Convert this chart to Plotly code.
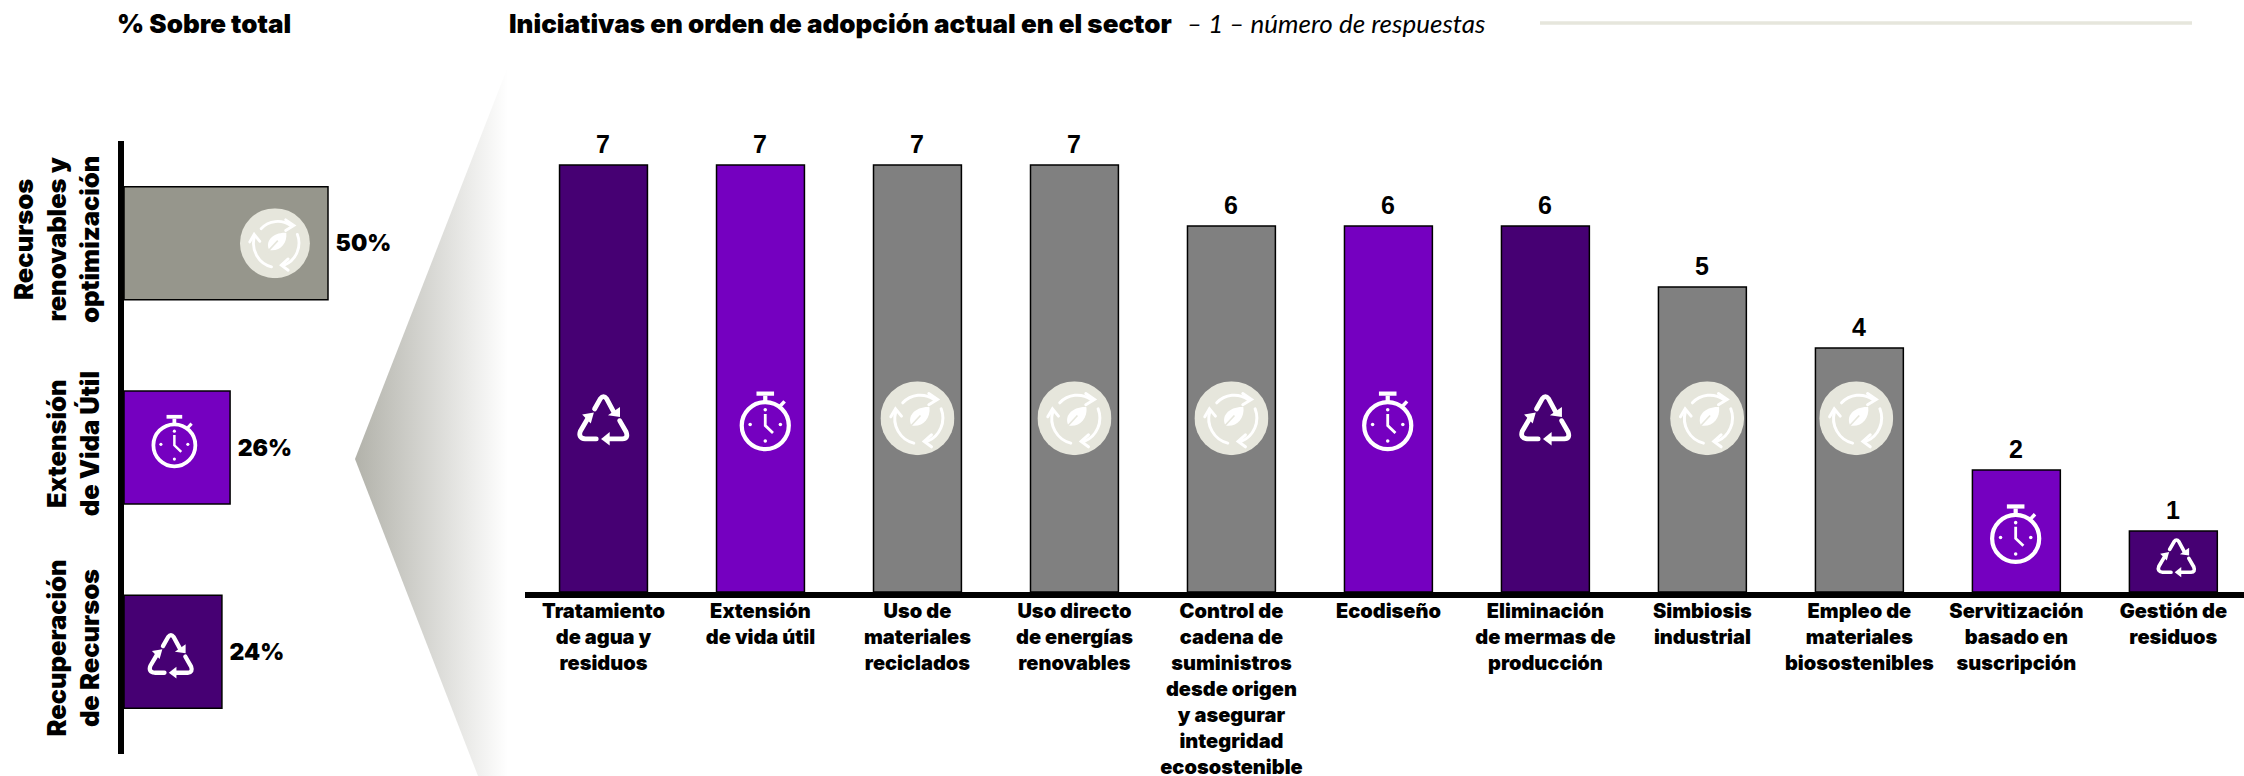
import base64
import plotly.graph_objects as go

# ---- data ----
group_labels = ["Recursos<br>renovables y<br>optimización", "Extensión<br>de Vida Útil", "Recuperación<br>de Recursos"]
group_values = [50, 26, 24]
group_colors = ["#96968c", "#7500c0", "#460073"]
group_icons = ["leaf", "watch", "recycle"]

initiatives = [
    "Tratamiento<br>de agua y<br>residuos",
    "Extensión<br>de vida útil",
    "Uso de<br>materiales<br>reciclados",
    "Uso directo<br>de energías<br>renovables",
    "Control de<br>cadena de<br>suministros<br>desde origen<br>y asegurar<br>integridad<br>ecosostenible",
    "Ecodiseño",
    "Eliminación<br>de mermas de<br>producción",
    "Simbiosis<br>industrial",
    "Empleo de<br>materiales<br>biosostenibles",
    "Servitización<br>basado en<br>suscripción",
    "Gestión de<br>residuos",
]
initiative_values = [7, 7, 7, 7, 6, 6, 6, 5, 4, 2, 1]
initiative_icons = ["recycle", "watch", "leaf", "leaf", "leaf", "watch", "recycle", "leaf", "leaf", "watch", "recycle"]
initiative_colors = {"recycle": "#460073", "watch": "#7500c0", "leaf": "#808080"}

W, H = 2244, 776
FONT = "Inter"

SVG = {
    "recycle": '''<svg xmlns="http://www.w3.org/2000/svg" viewBox="45 40 160 160">
<g fill="none" stroke="#fff" stroke-width="14" stroke-linecap="round" stroke-linejoin="round">
<path d="M99 88 L116 58 Q125 46 134 58 L155 97"/>
<path d="M172 122 L191 155 Q198 174 180 175 L138 175"/>
<path d="M104 175 L72 175 Q50 172 58 152 L78 118"/></g>
<g fill="#fff"><path d="M138 106 L173 111 L173 82 Z"/><path d="M118 175 L143 155 L143 194 Z"/><path d="M97 98 L63 104 L88 130 Z"/></g>
</svg>''',
    "watch": '''<svg xmlns="http://www.w3.org/2000/svg" viewBox="50 30 160 185">
<circle cx="128" cy="135" r="67" fill="none" stroke="#fff" stroke-width="12"/>
<rect x="103" y="38" width="50" height="12" fill="#fff"/><rect x="122" y="50" width="12" height="18" fill="#fff"/>
<path d="M170 80 L183 66" stroke="#fff" stroke-width="10" fill="none"/>
<path d="M128 102 L128 135 L150 156" stroke="#fff" stroke-width="8" fill="none"/>
<g fill="#fff"><circle cx="128" cy="90" r="5"/><circle cx="85" cy="132" r="5"/><circle cx="171" cy="132" r="5"/><circle cx="128" cy="179" r="5"/></g>
</svg>''',
    "leaf": '''<svg xmlns="http://www.w3.org/2000/svg" viewBox="25 17 222 222">
<circle cx="136" cy="128" r="111" fill="#e6e6dc"/>
<g fill="none" stroke="#fff" stroke-width="9" stroke-linecap="round">
<path d="M92 82 A72 72 0 0 1 186 72"/>
<path d="M207 100 A76 76 0 0 1 165 198"/>
<path d="M125 203 A76 76 0 0 1 71 108"/>
<path d="M170 54 L196 72 L170 88"/><path d="M178 178 L156 198 L178 214"/><path d="M56 124 L70 100 L88 122"/></g>
<path d="M172 95 C130 93 103 122 118 150 C150 156 176 130 172 95 Z" fill="#fff"/>
<path d="M106 162 L145 120" stroke="#e6e6dc" stroke-width="5" fill="none"/>
</svg>''',
}
FUNNEL = '''<svg xmlns="http://www.w3.org/2000/svg" viewBox="355 69 153 707" preserveAspectRatio="none">
<defs><linearGradient id="g" gradientUnits="userSpaceOnUse" x1="355" y1="0" x2="508" y2="0">
<stop offset="0" stop-color="#b2b2aa"/><stop offset="0.5" stop-color="#d8d8d4"/><stop offset="1" stop-color="#ffffff"/></linearGradient></defs>
<polygon points="355,459 507,69 507,776 478,776" fill="url(#g)"/></svg>'''


def uri(svg):
    return "data:image/svg+xml;base64," + base64.b64encode(svg.encode()).decode()


fig = go.Figure()
fig.add_trace(go.Bar(
    x=group_values, y=group_labels, orientation="h", width=0.553, xaxis="x", yaxis="y",
    marker=dict(color=group_colors, line=dict(color="#000", width=1.5)),
    text=[f"\u00a0{v}%" for v in group_values], textposition="outside", cliponaxis=False,
    textfont=dict(family=FONT, size=23, color="#000", weight=900),
))
fig.add_trace(go.Bar(
    x=initiatives, y=initiative_values, width=0.56, xaxis="x2", yaxis="y2",
    marker=dict(color=[initiative_colors[i] for i in initiative_icons], line=dict(color="#000", width=1.5)),
))

images = [dict(source=uri(FUNNEL), xref="paper", yref="paper", x=355 / W, y=1 - 69 / H,
               sizex=153 / W, sizey=707 / H, sizing="stretch", xanchor="left", yanchor="top", layer="below")]

ICON_SIZE_MAIN = [55, 65, 74, 74, 74, 65, 55, 74, 74, 65, 42]
ICON_SIZE_LEFT = [70, 58, 49]
LEFT_PX_X = 4.08
LEFT_PX_Y = 204.5
MAIN_PX_X = 157
MAIN_PX_Y = 61
left_icon_x = [37, 12.5, 11.5]
left_icon_y = [0, -0.03, 0.02]
main_icon_x = [0, 0.035, 0, 0, 0, 0, 0, 0.03, -0.02, 0, 0.02]
main_icon_y = [2.82, 2.8, 2.85, 2.85, 2.85, 2.8, 2.82, 2.85, 2.85, 0.95, 0.56]

for i, ic in enumerate(group_icons):
    s = ICON_SIZE_LEFT[i]
    images.append(dict(source=uri(SVG[ic]), xref="x", yref="y", x=left_icon_x[i], y=i + left_icon_y[i],
                       sizex=s / LEFT_PX_X, sizey=s / LEFT_PX_Y, sizing="contain",
                       xanchor="center", yanchor="middle", layer="above"))
for i, ic in enumerate(initiative_icons):
    s = ICON_SIZE_MAIN[i]
    images.append(dict(source=uri(SVG[ic]), xref="x2", yref="y2", x=i + main_icon_x[i], y=main_icon_y[i],
                       sizex=s / MAIN_PX_X, sizey=s / MAIN_PX_Y, sizing="contain",
                       xanchor="center", yanchor="middle", layer="above"))

annotations = [
    dict(text="% Sobre total", x=115 / W, y=1 - 23 / H, xref="paper", yref="paper", xanchor="left", yanchor="middle",
         showarrow=False, font=dict(family=FONT, size=26, color="#000", weight=900)),
    dict(text="Iniciativas en orden de adopción actual en el sector", x=507 / W, y=1 - 23 / H, xref="paper", yref="paper",
         xanchor="left", yanchor="middle", showarrow=False, font=dict(family=FONT, size=26, color="#000", weight=900)),
    dict(text="– 1 – número de respuestas", x=1185 / W, y=1 - 23 / H, xref="paper", yref="paper", xanchor="left",
         yanchor="middle", showarrow=False, font=dict(family="Lato", size=26, color="#000", style="italic")),
]
for i, v in enumerate(initiative_values):
    annotations.append(dict(text=str(v), x=i, y=v, xref="x2", yref="y2", yshift=21, yanchor="middle", xanchor="center",
                            showarrow=False, font=dict(family="Liberation Sans", size=25, color="#000", weight=700)))

fig.update_layout(
    width=W, height=H, margin=dict(l=0, r=0, t=0, b=0), autosize=False,
    paper_bgcolor="#fff", plot_bgcolor="rgba(0,0,0,0)", showlegend=False,
    images=images, annotations=annotations,
    shapes=[dict(type="line", xref="paper", yref="paper", x0=1540 / W, x1=2192 / W, y0=1 - 23 / H, y1=1 - 23 / H,
                 line=dict(color="#e6e6dc", width=3.5))],
    xaxis=dict(domain=[124 / W, (124 + 70 * LEFT_PX_X) / W], range=[0, 70], visible=False, anchor="y", automargin=False),
    yaxis=dict(domain=[1 - 754 / H, 1 - 141 / H], range=[2.5, -0.5], type="category", anchor="x", automargin=False,
               showline=True, linecolor="#000", linewidth=6, ticks="", tickangle=-90, showgrid=False,
               tickfont=dict(family=FONT, size=25.5, color="#000", weight=900), ticklabelstandoff=9),
    xaxis2=dict(domain=[525 / W, 1], range=[-0.5, 10.45], type="category", anchor="y2", automargin=False,
                showline=True, linecolor="#000", linewidth=6, ticks="", tickangle=0, showgrid=False,
                tickfont=dict(family=FONT, size=20, color="#000", weight=900), ticklabelstandoff=-4),
    yaxis2=dict(domain=[1 - 592 / H, 1 - 100 / H], range=[0, 492 / MAIN_PX_Y], visible=False, anchor="x2", automargin=False),
)
fig.write_html("out.html", config=dict(displayModeBar=False), post_script="document.body.style.margin='0';")
